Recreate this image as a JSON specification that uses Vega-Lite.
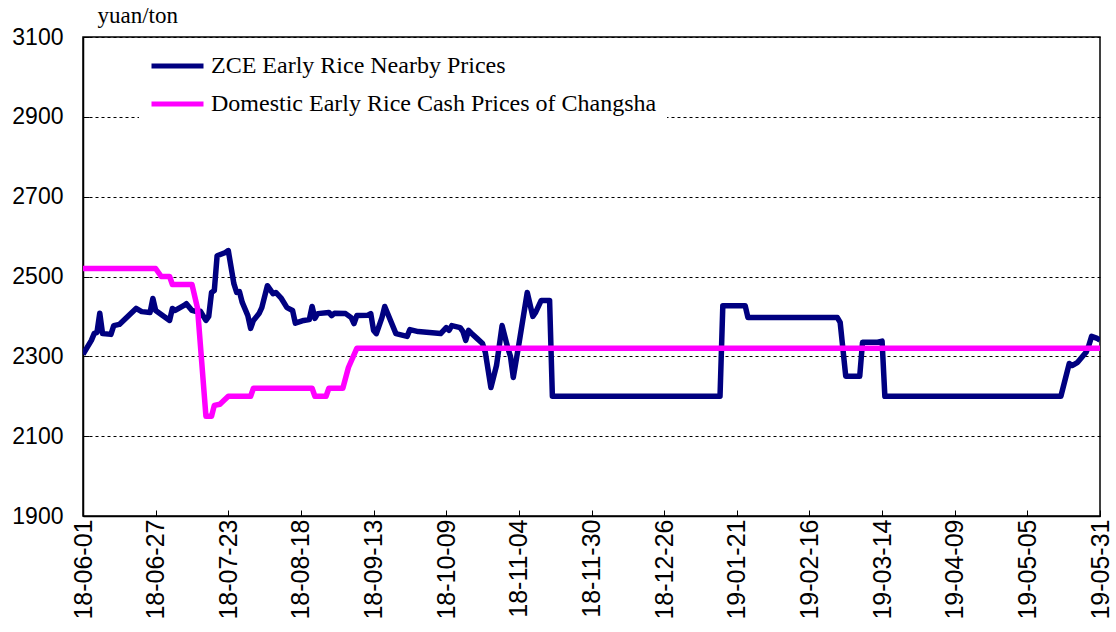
{
  "$schema": "https://vega.github.io/schema/vega-lite/v6.json",
  "width": 1017,
  "height": 479,
  "autosize": {"type": "none"},
  "padding": {"left": 83, "top": 37, "right": 16, "bottom": 116},
  "background": "white",
  "config": {
    "view": {"stroke": "black", "strokeWidth": 1.5},
    "axis": {"labelFont": "Liberation Sans", "labelColor": "black", "domainColor": "black", "tickColor": "black"}
  },
  "data": {
    "values": [
      {"series": "ZCE Early Rice Nearby Prices", "date": "2018-06-01", "price": 2305},
      {"series": "ZCE Early Rice Nearby Prices", "date": "2018-06-04", "price": 2340},
      {"series": "ZCE Early Rice Nearby Prices", "date": "2018-06-05", "price": 2357},
      {"series": "ZCE Early Rice Nearby Prices", "date": "2018-06-06", "price": 2360},
      {"series": "ZCE Early Rice Nearby Prices", "date": "2018-06-07", "price": 2408},
      {"series": "ZCE Early Rice Nearby Prices", "date": "2018-06-08", "price": 2357},
      {"series": "ZCE Early Rice Nearby Prices", "date": "2018-06-11", "price": 2355},
      {"series": "ZCE Early Rice Nearby Prices", "date": "2018-06-12", "price": 2377},
      {"series": "ZCE Early Rice Nearby Prices", "date": "2018-06-14", "price": 2380},
      {"series": "ZCE Early Rice Nearby Prices", "date": "2018-06-17", "price": 2400},
      {"series": "ZCE Early Rice Nearby Prices", "date": "2018-06-20", "price": 2420},
      {"series": "ZCE Early Rice Nearby Prices", "date": "2018-06-22", "price": 2412},
      {"series": "ZCE Early Rice Nearby Prices", "date": "2018-06-25", "price": 2410},
      {"series": "ZCE Early Rice Nearby Prices", "date": "2018-06-26", "price": 2445},
      {"series": "ZCE Early Rice Nearby Prices", "date": "2018-06-27", "price": 2415},
      {"series": "ZCE Early Rice Nearby Prices", "date": "2018-06-30", "price": 2400},
      {"series": "ZCE Early Rice Nearby Prices", "date": "2018-07-02", "price": 2390},
      {"series": "ZCE Early Rice Nearby Prices", "date": "2018-07-03", "price": 2420},
      {"series": "ZCE Early Rice Nearby Prices", "date": "2018-07-04", "price": 2415},
      {"series": "ZCE Early Rice Nearby Prices", "date": "2018-07-07", "price": 2427},
      {"series": "ZCE Early Rice Nearby Prices", "date": "2018-07-08", "price": 2432},
      {"series": "ZCE Early Rice Nearby Prices", "date": "2018-07-10", "price": 2415},
      {"series": "ZCE Early Rice Nearby Prices", "date": "2018-07-11", "price": 2413},
      {"series": "ZCE Early Rice Nearby Prices", "date": "2018-07-13", "price": 2413},
      {"series": "ZCE Early Rice Nearby Prices", "date": "2018-07-15", "price": 2390},
      {"series": "ZCE Early Rice Nearby Prices", "date": "2018-07-16", "price": 2400},
      {"series": "ZCE Early Rice Nearby Prices", "date": "2018-07-17", "price": 2460},
      {"series": "ZCE Early Rice Nearby Prices", "date": "2018-07-18", "price": 2465},
      {"series": "ZCE Early Rice Nearby Prices", "date": "2018-07-19", "price": 2552},
      {"series": "ZCE Early Rice Nearby Prices", "date": "2018-07-22", "price": 2560},
      {"series": "ZCE Early Rice Nearby Prices", "date": "2018-07-23", "price": 2565},
      {"series": "ZCE Early Rice Nearby Prices", "date": "2018-07-25", "price": 2482},
      {"series": "ZCE Early Rice Nearby Prices", "date": "2018-07-26", "price": 2460},
      {"series": "ZCE Early Rice Nearby Prices", "date": "2018-07-27", "price": 2462},
      {"series": "ZCE Early Rice Nearby Prices", "date": "2018-07-28", "price": 2435},
      {"series": "ZCE Early Rice Nearby Prices", "date": "2018-07-30", "price": 2402},
      {"series": "ZCE Early Rice Nearby Prices", "date": "2018-07-31", "price": 2370},
      {"series": "ZCE Early Rice Nearby Prices", "date": "2018-08-01", "price": 2390},
      {"series": "ZCE Early Rice Nearby Prices", "date": "2018-08-03", "price": 2407},
      {"series": "ZCE Early Rice Nearby Prices", "date": "2018-08-04", "price": 2422},
      {"series": "ZCE Early Rice Nearby Prices", "date": "2018-08-06", "price": 2477},
      {"series": "ZCE Early Rice Nearby Prices", "date": "2018-08-08", "price": 2457},
      {"series": "ZCE Early Rice Nearby Prices", "date": "2018-08-09", "price": 2460},
      {"series": "ZCE Early Rice Nearby Prices", "date": "2018-08-11", "price": 2445},
      {"series": "ZCE Early Rice Nearby Prices", "date": "2018-08-13", "price": 2422},
      {"series": "ZCE Early Rice Nearby Prices", "date": "2018-08-15", "price": 2415},
      {"series": "ZCE Early Rice Nearby Prices", "date": "2018-08-16", "price": 2383},
      {"series": "ZCE Early Rice Nearby Prices", "date": "2018-08-19", "price": 2390},
      {"series": "ZCE Early Rice Nearby Prices", "date": "2018-08-21", "price": 2392},
      {"series": "ZCE Early Rice Nearby Prices", "date": "2018-08-22", "price": 2425},
      {"series": "ZCE Early Rice Nearby Prices", "date": "2018-08-23", "price": 2395},
      {"series": "ZCE Early Rice Nearby Prices", "date": "2018-08-24", "price": 2407},
      {"series": "ZCE Early Rice Nearby Prices", "date": "2018-08-28", "price": 2410},
      {"series": "ZCE Early Rice Nearby Prices", "date": "2018-08-29", "price": 2402},
      {"series": "ZCE Early Rice Nearby Prices", "date": "2018-08-30", "price": 2408},
      {"series": "ZCE Early Rice Nearby Prices", "date": "2018-09-03", "price": 2407},
      {"series": "ZCE Early Rice Nearby Prices", "date": "2018-09-05", "price": 2397},
      {"series": "ZCE Early Rice Nearby Prices", "date": "2018-09-06", "price": 2382},
      {"series": "ZCE Early Rice Nearby Prices", "date": "2018-09-07", "price": 2402},
      {"series": "ZCE Early Rice Nearby Prices", "date": "2018-09-11", "price": 2403},
      {"series": "ZCE Early Rice Nearby Prices", "date": "2018-09-12", "price": 2407},
      {"series": "ZCE Early Rice Nearby Prices", "date": "2018-09-13", "price": 2365},
      {"series": "ZCE Early Rice Nearby Prices", "date": "2018-09-14", "price": 2357},
      {"series": "ZCE Early Rice Nearby Prices", "date": "2018-09-16", "price": 2397},
      {"series": "ZCE Early Rice Nearby Prices", "date": "2018-09-17", "price": 2425},
      {"series": "ZCE Early Rice Nearby Prices", "date": "2018-09-18", "price": 2408},
      {"series": "ZCE Early Rice Nearby Prices", "date": "2018-09-21", "price": 2357},
      {"series": "ZCE Early Rice Nearby Prices", "date": "2018-09-25", "price": 2350},
      {"series": "ZCE Early Rice Nearby Prices", "date": "2018-09-26", "price": 2367},
      {"series": "ZCE Early Rice Nearby Prices", "date": "2018-09-29", "price": 2362},
      {"series": "ZCE Early Rice Nearby Prices", "date": "2018-10-07", "price": 2357},
      {"series": "ZCE Early Rice Nearby Prices", "date": "2018-10-09", "price": 2372},
      {"series": "ZCE Early Rice Nearby Prices", "date": "2018-10-10", "price": 2365},
      {"series": "ZCE Early Rice Nearby Prices", "date": "2018-10-11", "price": 2377},
      {"series": "ZCE Early Rice Nearby Prices", "date": "2018-10-14", "price": 2372},
      {"series": "ZCE Early Rice Nearby Prices", "date": "2018-10-15", "price": 2362},
      {"series": "ZCE Early Rice Nearby Prices", "date": "2018-10-16", "price": 2340},
      {"series": "ZCE Early Rice Nearby Prices", "date": "2018-10-17", "price": 2365},
      {"series": "ZCE Early Rice Nearby Prices", "date": "2018-10-18", "price": 2358},
      {"series": "ZCE Early Rice Nearby Prices", "date": "2018-10-20", "price": 2345},
      {"series": "ZCE Early Rice Nearby Prices", "date": "2018-10-22", "price": 2332},
      {"series": "ZCE Early Rice Nearby Prices", "date": "2018-10-23", "price": 2310},
      {"series": "ZCE Early Rice Nearby Prices", "date": "2018-10-25", "price": 2222},
      {"series": "ZCE Early Rice Nearby Prices", "date": "2018-10-27", "price": 2277},
      {"series": "ZCE Early Rice Nearby Prices", "date": "2018-10-29", "price": 2377},
      {"series": "ZCE Early Rice Nearby Prices", "date": "2018-10-31", "price": 2322},
      {"series": "ZCE Early Rice Nearby Prices", "date": "2018-11-01", "price": 2300},
      {"series": "ZCE Early Rice Nearby Prices", "date": "2018-11-02", "price": 2247},
      {"series": "ZCE Early Rice Nearby Prices", "date": "2018-11-04", "price": 2330},
      {"series": "ZCE Early Rice Nearby Prices", "date": "2018-11-07", "price": 2460},
      {"series": "ZCE Early Rice Nearby Prices", "date": "2018-11-09", "price": 2400},
      {"series": "ZCE Early Rice Nearby Prices", "date": "2018-11-10", "price": 2410},
      {"series": "ZCE Early Rice Nearby Prices", "date": "2018-11-12", "price": 2440},
      {"series": "ZCE Early Rice Nearby Prices", "date": "2018-11-15", "price": 2440},
      {"series": "ZCE Early Rice Nearby Prices", "date": "2018-11-16", "price": 2200},
      {"series": "ZCE Early Rice Nearby Prices", "date": "2019-01-15", "price": 2200},
      {"series": "ZCE Early Rice Nearby Prices", "date": "2019-01-16", "price": 2427},
      {"series": "ZCE Early Rice Nearby Prices", "date": "2019-01-24", "price": 2427},
      {"series": "ZCE Early Rice Nearby Prices", "date": "2019-01-25", "price": 2397},
      {"series": "ZCE Early Rice Nearby Prices", "date": "2019-02-26", "price": 2397},
      {"series": "ZCE Early Rice Nearby Prices", "date": "2019-02-27", "price": 2385},
      {"series": "ZCE Early Rice Nearby Prices", "date": "2019-03-01", "price": 2250},
      {"series": "ZCE Early Rice Nearby Prices", "date": "2019-03-06", "price": 2250},
      {"series": "ZCE Early Rice Nearby Prices", "date": "2019-03-07", "price": 2335},
      {"series": "ZCE Early Rice Nearby Prices", "date": "2019-03-12", "price": 2335},
      {"series": "ZCE Early Rice Nearby Prices", "date": "2019-03-14", "price": 2338},
      {"series": "ZCE Early Rice Nearby Prices", "date": "2019-03-15", "price": 2200},
      {"series": "ZCE Early Rice Nearby Prices", "date": "2019-05-17", "price": 2200},
      {"series": "ZCE Early Rice Nearby Prices", "date": "2019-05-20", "price": 2282},
      {"series": "ZCE Early Rice Nearby Prices", "date": "2019-05-21", "price": 2277},
      {"series": "ZCE Early Rice Nearby Prices", "date": "2019-05-23", "price": 2285},
      {"series": "ZCE Early Rice Nearby Prices", "date": "2019-05-26", "price": 2310},
      {"series": "ZCE Early Rice Nearby Prices", "date": "2019-05-27", "price": 2327},
      {"series": "ZCE Early Rice Nearby Prices", "date": "2019-05-28", "price": 2350},
      {"series": "ZCE Early Rice Nearby Prices", "date": "2019-05-30", "price": 2345},
      {"series": "ZCE Early Rice Nearby Prices", "date": "2019-05-31", "price": 2340},
      {"series": "Domestic Early Rice Cash Prices of Changsha", "date": "2018-06-01", "price": 2520},
      {"series": "Domestic Early Rice Cash Prices of Changsha", "date": "2018-06-27", "price": 2520},
      {"series": "Domestic Early Rice Cash Prices of Changsha", "date": "2018-06-29", "price": 2500},
      {"series": "Domestic Early Rice Cash Prices of Changsha", "date": "2018-07-02", "price": 2500},
      {"series": "Domestic Early Rice Cash Prices of Changsha", "date": "2018-07-03", "price": 2480},
      {"series": "Domestic Early Rice Cash Prices of Changsha", "date": "2018-07-10", "price": 2480},
      {"series": "Domestic Early Rice Cash Prices of Changsha", "date": "2018-07-12", "price": 2420},
      {"series": "Domestic Early Rice Cash Prices of Changsha", "date": "2018-07-15", "price": 2150},
      {"series": "Domestic Early Rice Cash Prices of Changsha", "date": "2018-07-17", "price": 2150},
      {"series": "Domestic Early Rice Cash Prices of Changsha", "date": "2018-07-18", "price": 2177},
      {"series": "Domestic Early Rice Cash Prices of Changsha", "date": "2018-07-20", "price": 2180},
      {"series": "Domestic Early Rice Cash Prices of Changsha", "date": "2018-07-23", "price": 2200},
      {"series": "Domestic Early Rice Cash Prices of Changsha", "date": "2018-07-31", "price": 2200},
      {"series": "Domestic Early Rice Cash Prices of Changsha", "date": "2018-08-01", "price": 2220},
      {"series": "Domestic Early Rice Cash Prices of Changsha", "date": "2018-08-22", "price": 2220},
      {"series": "Domestic Early Rice Cash Prices of Changsha", "date": "2018-08-23", "price": 2200},
      {"series": "Domestic Early Rice Cash Prices of Changsha", "date": "2018-08-27", "price": 2200},
      {"series": "Domestic Early Rice Cash Prices of Changsha", "date": "2018-08-28", "price": 2220},
      {"series": "Domestic Early Rice Cash Prices of Changsha", "date": "2018-09-02", "price": 2220},
      {"series": "Domestic Early Rice Cash Prices of Changsha", "date": "2018-09-04", "price": 2272},
      {"series": "Domestic Early Rice Cash Prices of Changsha", "date": "2018-09-07", "price": 2320},
      {"series": "Domestic Early Rice Cash Prices of Changsha", "date": "2019-05-31", "price": 2320}
    ]
  },
  "mark": {"type": "line", "strokeWidth": 5.5, "strokeJoin": "round", "clip": true},
  "encoding": {
    "x": {
      "field": "date",
      "type": "temporal",
      "scale": {
        "type": "utc",
        "domain": [
          {"year": 2018, "month": 6, "date": 1, "utc": true},
          {"year": 2019, "month": 5, "date": 31, "utc": true}
        ]
      },
      "axis": {
        "title": null,
        "grid": false,
        "values": [
          {"year": 2018, "month": 6, "date": 1, "utc": true},
          {"year": 2018, "month": 6, "date": 27, "utc": true},
          {"year": 2018, "month": 7, "date": 23, "utc": true},
          {"year": 2018, "month": 8, "date": 18, "utc": true},
          {"year": 2018, "month": 9, "date": 13, "utc": true},
          {"year": 2018, "month": 10, "date": 9, "utc": true},
          {"year": 2018, "month": 11, "date": 4, "utc": true},
          {"year": 2018, "month": 11, "date": 30, "utc": true},
          {"year": 2018, "month": 12, "date": 26, "utc": true},
          {"year": 2019, "month": 1, "date": 21, "utc": true},
          {"year": 2019, "month": 2, "date": 16, "utc": true},
          {"year": 2019, "month": 3, "date": 14, "utc": true},
          {"year": 2019, "month": 4, "date": 9, "utc": true},
          {"year": 2019, "month": 5, "date": 5, "utc": true},
          {"year": 2019, "month": 5, "date": 31, "utc": true}
        ],
        "labelExpr": "utcFormat(datum.value, '%y-%m-%d')",
        "labelAngle": 270,
        "labelAlign": "right",
        "labelBaseline": "middle",
        "labelFontSize": 25,
        "labelPadding": 9,
        "labelOverlap": false,
        "labelFlush": false,
        "tickSize": -6,
        "tickWidth": 1,
        "domainWidth": 1.5
      }
    },
    "y": {
      "field": "price",
      "type": "quantitative",
      "scale": {"domain": [1900, 3100], "nice": false, "zero": false},
      "axis": {
        "values": [1900, 2100, 2300, 2500, 2700, 2900, 3100],
        "format": "d",
        "title": "yuan/ton",
        "titleAngle": 0,
        "titleAlign": "left",
        "titleBaseline": "alphabetic",
        "titleX": 14,
        "titleY": -15,
        "titleFont": "Liberation Serif",
        "titleFontSize": 23,
        "titleFontWeight": "normal",
        "titleColor": "black",
        "labelFontSize": 23,
        "labelPadding": 26,
        "labelFlush": false,
        "labelOverlap": false,
        "tickSize": -6,
        "tickWidth": 1,
        "domainWidth": 1.5,
        "grid": true,
        "gridColor": "black",
        "gridDash": [3, 3],
        "gridWidth": 1,
        "gridOpacity": 1
      }
    },
    "color": {
      "field": "series",
      "type": "nominal",
      "scale": {
        "domain": ["ZCE Early Rice Nearby Prices", "Domestic Early Rice Cash Prices of Changsha"],
        "range": ["#000080", "#FF00FF"]
      },
      "legend": {
        "title": null,
        "orient": "none",
        "legendX": 56,
        "legendY": 8,
        "fillColor": "white",
        "padding": 10,
        "symbolType": "stroke",
        "symbolSize": 2704,
        "symbolStrokeWidth": 5,
        "clipHeight": 22,
        "rowPadding": 14,
        "labelOffset": 5,
        "labelFont": "Liberation Serif",
        "labelFontSize": 24,
        "labelColor": "black",
        "labelLimit": 700
      }
    }
  }
}
